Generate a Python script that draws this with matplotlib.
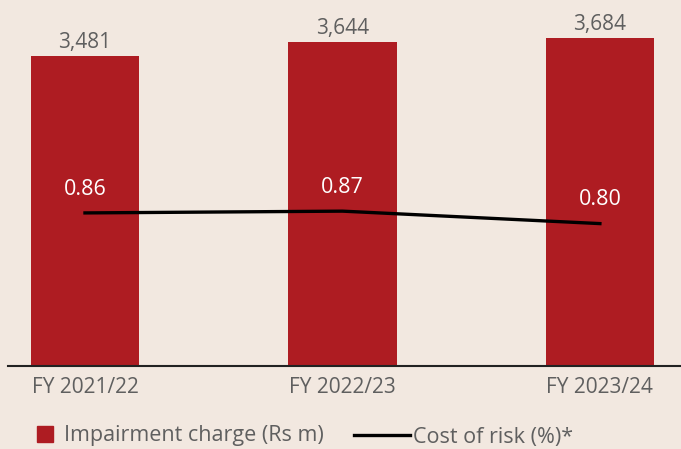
import matplotlib
matplotlib.use('Agg')
import matplotlib.pyplot as plt
from matplotlib.patches import Patch
from matplotlib.lines import Line2D

# %% Data
years = ['FY 2021/22', 'FY 2022/23', 'FY 2023/24']
impairment = [3481, 3644, 3684]
cost_of_risk = [0.86, 0.87, 0.80]

bg = '#f2e8e0'
red = '#ae1c22'
grey = '#5f5f5f'

plt.rcParams['font.family'] = ['Open Sans', 'DejaVu Sans']

fig = plt.figure(figsize=(6.81, 4.49), dpi=100, facecolor=bg)
ax = fig.add_axes([8 / 681, 83 / 449, 673 / 681, 356 / 449])
ax.set_facecolor(bg)

x = list(range(len(years)))
ax.bar(x, impairment, width=0.42, color=red, zorder=2)
for xi, v in zip(x, impairment):
    ax.text(xi, v + 35, '{:,}'.format(v), ha='center', va='bottom',
            fontsize=15, color=grey)

ax.set_xlim(-0.299, 2.315)
ax.set_ylim(0, 4000)
ax.set_yticks([])
ax.set_xticks(x)
ax.set_xticklabels(years, fontsize=15, color=grey)
ax.tick_params(axis='x', length=0, pad=8)
for s in ['top', 'right', 'left']:
    ax.spines[s].set_visible(False)
ax.spines['bottom'].set_color('#222222')
ax.spines['bottom'].set_linewidth(1.5)

# Cost of risk on a second axis
ax2 = ax.twinx()
ax2.plot(x, cost_of_risk, color='black', lw=2.4, zorder=3)
ax2.set_ylim(0, 2)
ax2.set_yticks([])
for s in ['top', 'right', 'left', 'bottom']:
    ax2.spines[s].set_visible(False)
for xi, v in zip(x, cost_of_risk):
    ax2.text(xi, v + 0.075, '{:.2f}'.format(v), ha='center', va='bottom',
             fontsize=15.5, color='white')

# Legend
fig.legend(handles=[Patch(color=red)], labels=['Impairment charge (Rs m)'],
           loc='center left', bbox_to_anchor=(37 / 681, 1 - 436 / 449),
           frameon=False, fontsize=15.5, handlelength=0.75, handleheight=0.75,
           handletextpad=0.5, borderpad=0, borderaxespad=0, labelcolor=grey)
fig.legend(handles=[Line2D([], [], color='black', lw=2.4)], labels=['Cost of risk (%)*'],
           loc='center left', bbox_to_anchor=(354 / 681, 1 - 437 / 449),
           frameon=False, fontsize=15.5, handlelength=2.6,
           handletextpad=0.15, borderpad=0, borderaxespad=0, labelcolor=grey)

fig.savefig('out.png', dpi=100, facecolor=bg)
